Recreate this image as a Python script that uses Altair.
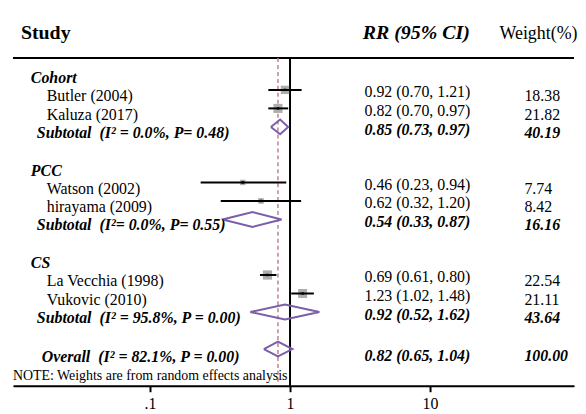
import altair as alt
import pandas as pd

# ---------------- data ----------------
study_names = ["Butler (2004)", "Kaluza (2017)", "Watson (2002)", "hirayama (2009)",
               "La Vecchia (1998)", "Vukovic (2010)"]
study_rr = [0.92, 0.82, 0.46, 0.62, 0.69, 1.23]
study_lo = [0.70, 0.70, 0.23, 0.32, 0.61, 1.02]
study_hi = [1.21, 0.97, 0.94, 1.20, 0.80, 1.48]
study_weight = [18.38, 21.82, 7.74, 8.42, 22.54, 21.11]
study_row = [1, 2, 6, 7, 11, 12]

group_names = ["Cohort", "PCC", "CS"]
group_row = [0, 5, 10]

subtotal_labels = ["Subtotal\u00a0 (I\u00b2 = 0.0%, P= 0.48)",
                   "Subtotal\u00a0 (I\u00b2= 0.0%, P= 0.55)",
                   "Subtotal\u00a0 (I\u00b2 = 95.8%, P = 0.00)"]
subtotal_rr = [0.85, 0.54, 0.92]
subtotal_lo = [0.73, 0.33, 0.52]
subtotal_hi = [0.97, 0.87, 1.62]
subtotal_weight = [40.19, 16.16, 43.64]
subtotal_row = [3, 8, 13]

overall_labels = ["Overall\u00a0 (I\u00b2 = 82.1%, P = 0.00)"]
overall_rr = [0.82]
overall_lo = [0.65]
overall_hi = [1.04]
overall_weight = [100.00]
overall_row = [15]

note_labels = ["NOTE: Weights are from random effects analysis"]
note_row = [16]

header_labels = ["Study", "RR (95% CI)", "Weight(%)"]
tick_values = [0.1, 1, 10]
tick_labels = [".1", "1", "10"]
null_value = [1]

# ---------------- layout / style ----------------
FONT = "'Liberation Serif', 'Times New Roman', Times, serif"
W, H = 565, 379
DIAMOND_HALF = 0.40
PURPLE = "#7b5ea9"

label_expr = "''"
for v, l in reversed(list(zip(tick_values, tick_labels))):
    label_expr = f"datum.value == {v} ? '{l}' : {label_expr}"

x_scale = alt.Scale(type="log", domain=[0.010502, 106.75], nice=False)
y_scale = alt.Scale(domain=[-3.3476, 16.985], reverse=True, nice=False, zero=False)
axis_x = alt.Axis(values=tick_values, labelExpr=label_expr, title=None, grid=False,
                  domainColor="black", domainWidth=2, tickColor="black", tickWidth=2,
                  tickSize=6, labelFont=FONT, labelFontSize=16, labelColor="black",
                  labelPadding=4, labelFlush=False, labelOverlap=False)


def X(f):
    return alt.X(f, type="quantitative", scale=x_scale, axis=axis_x)


def Y(f):
    return alt.Y(f, type="quantitative", scale=y_scale, axis=None)


studies = pd.DataFrame({"name": study_names, "rr": study_rr, "lo": study_lo, "hi": study_hi,
                        "w": study_weight, "row": study_row})
studies["ci"] = [f"{a:.2f} ({b:.2f}, {c:.2f})" for a, b, c in zip(study_rr, study_lo, study_hi)]
studies["wt"] = [f"{w:.2f}" for w in study_weight]

subs = pd.DataFrame({"name": subtotal_labels, "rr": subtotal_rr, "lo": subtotal_lo,
                     "hi": subtotal_hi, "w": subtotal_weight, "row": subtotal_row})
subs["ci"] = [f"{a:.2f} ({b:.2f}, {c:.2f})" for a, b, c in zip(subtotal_rr, subtotal_lo, subtotal_hi)]
subs["wt"] = [f"{w:.2f}" for w in subtotal_weight]

ovr = pd.DataFrame({"name": overall_labels, "rr": overall_rr, "lo": overall_lo,
                    "hi": overall_hi, "w": overall_weight, "row": overall_row})
ovr["ci"] = [f"{a:.2f} ({b:.2f}, {c:.2f})" for a, b, c in zip(overall_rr, overall_lo, overall_hi)]
ovr["wt"] = [f"{w:.2f}" for w in overall_weight]

groups = pd.DataFrame({"name": group_names, "row": group_row})
note = pd.DataFrame({"name": note_labels, "row": note_row})

# diamond outlines for pooled estimates
dia_rows = []
for df in (subs, ovr):
    for _, r in df.iterrows():
        pts = [(r.lo, r.row), (r.rr, r.row - DIAMOND_HALF), (r.hi, r.row),
               (r.rr, r.row + DIAMOND_HALF), (r.lo, r.row)]
        for i, (xx, yy) in enumerate(pts):
            dia_rows.append({"id": r["name"], "o": i, "x": xx, "y": yy})
diamonds = pd.DataFrame(dia_rows)

nullv = pd.DataFrame({"x": null_value})
overall_line = pd.DataFrame({"x": overall_rr})

layers = []

# header line
layers.append(alt.Chart(nullv).mark_rule(color="black", strokeWidth=2).encode(
    x=alt.value(0), x2=alt.value(W), y=alt.value(49)))

# dashed overall line
layers.append(alt.Chart(overall_line).mark_rule(color="#c4808a", strokeWidth=1.5,
                                                 strokeDash=[4, 3]).encode(
    x=X("x"), y=alt.value(49), y2=alt.value(H - 2)))

# null line
layers.append(alt.Chart(nullv).mark_rule(color="black", strokeWidth=2).encode(
    x=X("x"), y=alt.value(49), y2=alt.value(H)))

# weight squares
layers.append(alt.Chart(studies).mark_square(filled=True, color="#adadad", opacity=1).encode(
    x=X("rr"), y=Y("row"),
    size=alt.Size("w:Q", scale=alt.Scale(domain=[0, 25], range=[0, 96], zero=True), legend=None)))

# CI lines
layers.append(alt.Chart(studies).mark_rule(color="black", strokeWidth=2).encode(
    x=X("lo"), x2="hi", y=Y("row")))

# point estimate dots
layers.append(alt.Chart(studies).mark_square(filled=True, color="black", size=6, opacity=1).encode(
    x=X("rr"), y=Y("row")))

# diamonds
layers.append(alt.Chart(diamonds).mark_line(color=PURPLE, strokeWidth=2).encode(
    x=X("x"), y=Y("y"), detail="id:N", order="o:Q"))

# ----- text -----
def txt(df, field, x, dy, size=16, weight="normal", style="normal"):
    return alt.Chart(df).mark_text(font=FONT, fontSize=size, fontWeight=weight, fontStyle=style,
                                   align="left", baseline="alphabetic", dy=dy, color="black").encode(
        x=alt.value(x), y=Y("row"), text=f"{field}:N")

layers.append(txt(groups, "name", 18, 12, weight="bold", style="italic"))
layers.append(txt(studies, "name", 34, 11.5))
layers.append(txt(subs, "name", 24, 11, weight="bold", style="italic"))
layers.append(txt(ovr, "name", 29, 13, weight="bold", style="italic"))
layers.append(txt(note, "name", 0, 13, size=14))

layers.append(txt(studies, "ci", 354, 7.5))
layers.append(txt(subs, "ci", 354, 8, weight="bold", style="italic"))
layers.append(txt(ovr, "ci", 354, 12.5, weight="bold", style="italic"))

layers.append(txt(studies, "wt", 515, 11.5))
layers.append(txt(subs, "wt", 515, 11, weight="bold", style="italic"))
layers.append(txt(ovr, "wt", 515, 12, weight="bold", style="italic"))

# headers
hdr = pd.DataFrame({"h": header_labels})
layers.append(alt.Chart(hdr).transform_filter(alt.datum.h == header_labels[0]).mark_text(
    font=FONT, fontSize=20, fontWeight="bold", align="left", baseline="alphabetic", color="black").encode(
    x=alt.value(8), y=alt.value(29.3), text="h:N"))
layers.append(alt.Chart(hdr).transform_filter(alt.datum.h == header_labels[1]).mark_text(
    font=FONT, fontSize=20, fontWeight="bold", fontStyle="italic", align="right",
    baseline="alphabetic", color="black").encode(
    x=alt.value(460), y=alt.value(29.3), text="h:N"))
layers.append(alt.Chart(hdr).transform_filter(alt.datum.h == header_labels[2]).mark_text(
    font=FONT, fontSize=18, align="left", baseline="alphabetic", color="black").encode(
    x=alt.value(490), y=alt.value(29.3), text="h:N"))

chart = alt.layer(*layers).properties(
    width=W, height=H,
    padding={"left": 4, "top": 0, "right": 0, "bottom": 0},
    background="white",
).configure_view(stroke=None)

chart.save("out.html", embed_options={"renderer": "svg", "actions": False})
